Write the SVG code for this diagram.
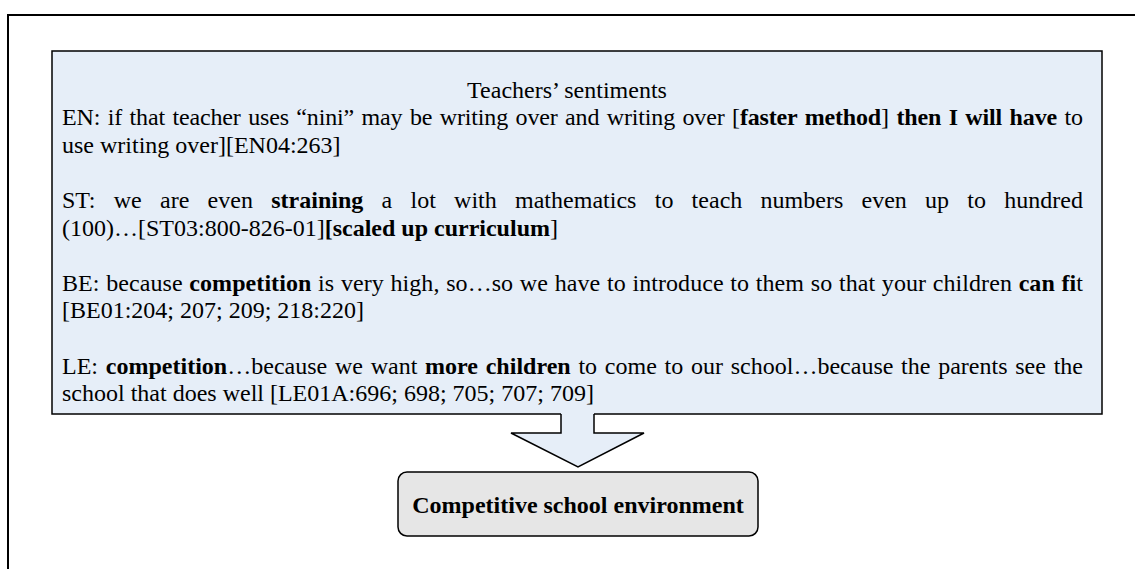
<svg xmlns="http://www.w3.org/2000/svg" width="1135" height="569" viewBox="0 0 1135 569">
  <style>
    .t { font-family: "Liberation Serif", "Times New Roman", serif; font-size: 24px; fill: #000; }
    .b { font-weight: bold; }
    .frame { fill: none; stroke: #000; stroke-width: 2; }
    .box { fill: #E6EEF8; stroke: #000; stroke-width: 1.5; }
    .res { fill: #E6E6E6; stroke: #000; stroke-width: 1.5; }
  </style>
  <rect class="frame" x="8" y="15" width="1150" height="580"/>
  <g id="sentiments">
    <rect class="box" x="52" y="51" width="1050" height="363"/>
    <text class="t" x="567" y="97.5" text-anchor="middle">Teachers’ sentiments</text>
    <text class="t" x="62" y="125" word-spacing="1.68" textLength="1021" lengthAdjust="spacing">EN: if that teacher uses “nini” may be writing over and writing over [<tspan class="b">faster method</tspan>] <tspan class="b">then I will have</tspan> to</text>
    <text class="t" x="62" y="152.7">use writing over][EN04:263]</text>
    <text class="t" x="62" y="208" word-spacing="12.2" textLength="1021" lengthAdjust="spacing">ST: we are even <tspan class="b">straining</tspan> a lot with mathematics to teach numbers even up to hundred</text>
    <text class="t" x="62" y="235.5">(100)…[ST03:800-826-01]<tspan class="b">[scaled up curriculum</tspan>]</text>
    <text class="t" x="62" y="290.7" word-spacing="0.62" textLength="1021" lengthAdjust="spacing">BE: because <tspan class="b">competition</tspan> is very high, so…so we have to introduce to them so that your children <tspan class="b">can fi</tspan>t</text>
    <text class="t" x="62" y="318.3">[BE01:204; 207; 209; 218:220]</text>
    <text class="t" x="62" y="373.5" word-spacing="1.7" textLength="1021" lengthAdjust="spacing">LE: <tspan class="b">competition</tspan>…because we want <tspan class="b">more children</tspan> to come to our school…because the parents see the</text>
    <text class="t" x="62" y="401.1">school that does well [LE01A:696; 698; 705; 707; 709]</text>
  </g>
  <g id="connectors">
    <polygon points="561,411 594,411 594,433 644,433 578,467 511,433 561,433" fill="#E6EEF8" stroke="none"/>
    <polyline points="561,414 561,433 511,433 578,467 644,433 594,433 594,414" fill="none" stroke="#000" stroke-width="1.5" stroke-linejoin="miter"/>
  </g>
  <g id="result">
    <rect class="res" x="398" y="472" width="360" height="64" rx="9"/>
    <text class="t b" x="578" y="513" text-anchor="middle" font-size="25">Competitive school environment</text>
  </g>
</svg>
